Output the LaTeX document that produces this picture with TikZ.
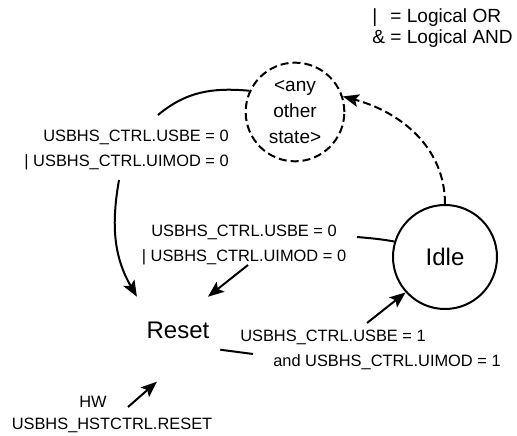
\documentclass[tikz,border=0pt]{standalone}
\usepackage{fontspec}
\setmainfont{Liberation Sans}
\usetikzlibrary{arrows.meta,shapes.geometric}
\begin{document}
\begin{tikzpicture}[x=0.75pt,y=0.75pt,
    statecirc/.style={draw,circle,line width=1.5pt,inner sep=1pt,align=center},
    condlbl/.style={inner sep=0pt,font=\fontsize{12.3}{18.75}\selectfont},
    wire/.style={line width=1.5pt},
    arr/.style={line width=1.5pt,-{Stealth[length=12pt,width=9.5pt,inset=2.5pt]}},
    dashline/.style={dash pattern=on 6pt off 3pt}]
    \useasboundingbox (0,0) rectangle (517,435);
    \node[anchor=west,align=left,inner sep=0pt,font=\fontsize{14.3}{15.75}\selectfont] (legend) at (372,407) {\makebox[0.95em][l]{|}= Logical OR\\\makebox[0.95em][l]{\&}= Logical AND};
    \node[statecirc,dashline,minimum size=74pt,font=\fontsize{14.3}{19.5}\selectfont] (other) at (295,323) {<any\\other\\state>};
    \node[statecirc,minimum size=78pt,font=\fontsize{18}{22}\selectfont] (idle) at (445,178) {Idle};
    \node[minimum width=63pt,minimum height=49.5pt,inner sep=0pt,font=\fontsize{18}{22}\selectfont] (reset) at (178,105) {Reset};
    \node[condlbl,align=right,anchor=east] (lblTop) at (229,285) {USBHS\_CTRL.USBE = 0\\| USBHS\_CTRL.UIMOD = 0};
    \node[condlbl,align=center] (lblMid) at (244,190) {USBHS\_CTRL.USBE = 0\\| USBHS\_CTRL.UIMOD = 0};
    \node[condlbl,align=left,anchor=west] (lblBot) at (240,85.5) {USBHS\_CTRL.USBE = 1\\\hspace*{24.75pt}and USBHS\_CTRL.UIMOD = 1};
    \node[condlbl,align=center,font=\fontsize{12.3}{16.5}\selectfont] (lblHW) at (112,21) {HW\hspace*{28.5pt}\\USBHS\_HSTCTRL.RESET};
    \coordinate (topIn) at (158,320);
    \coordinate (topOut) at (119,255);
    \coordinate (midIn) at (357,198);
    \coordinate (midOut) at (248,170);
    \coordinate (botIn) at (253,81);
    \coordinate (botOut) at (367,112);
    \coordinate (hwOut) at (128,28);
    \draw[wire] (other.155) to[out=175,in=40] (topIn);
    \draw[arr] (topOut) to[out=-100,in=120] (reset.141);
    \draw[wire] (idle.163) to[out=170,in=-5] (midIn);
    \draw[arr] (midOut) -- (reset.48);
    \draw[wire] (reset.-25) -- (botIn);
    \draw[arr] (botOut) -- (idle.222);
    \draw[arr,shorten >=21pt] (hwOut) -- (reset.south);
    \draw[arr,dashline] (idle.north) to[out=90,in=-15] (other.18);
\end{tikzpicture}
\end{document}
